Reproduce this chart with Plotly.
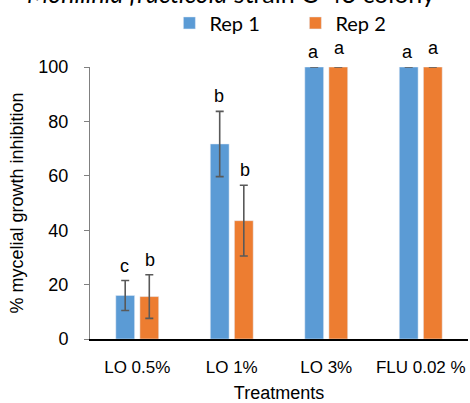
import plotly.graph_objects as go

categories = ["LO 0.5%", "LO 1%", "LO 3%", "FLU 0.02 %"]
rep1 = [16.0, 71.7, 100, 100]
rep1_err = [5.5, 12.0, 0, 0]
rep2 = [15.6, 43.5, 100, 100]
rep2_err = [8.0, 13.0, 0, 0]
rep1_letters = ["c", "b", "a", "a"]
rep2_letters = ["b", "b", "a", "a"]
y_ticks = [0, 20, 40, 60, 80, 100]

blue = "#5B9BD5"
orange = "#ED7D31"
errc = "#595959"
font_ax = "Liberation Sans, Arial, sans-serif"
font_leg = "Lato, Open Sans, sans-serif"

fig = go.Figure()
fig.add_trace(go.Bar(
    x=categories, y=rep1, name="Rep 1", marker_color=blue,
    error_y=dict(type="data", array=rep1_err, color=errc, thickness=1.6, width=4),
))
fig.add_trace(go.Bar(
    x=categories, y=rep2, name="Rep 2", marker_color=orange,
    error_y=dict(type="data", array=rep2_err, color=errc, thickness=1.6, width=4),
))

# significance letters
for i, c in enumerate(categories):
    fig.add_annotation(x=c, y=rep1[i] + rep1_err[i], text=rep1_letters[i],
                       xref="x", yref="y", showarrow=False, xshift=-13,
                       yanchor="bottom", yshift=3,
                       font=dict(family=font_ax, size=18, color="black"))
    fig.add_annotation(x=c, y=rep2[i] + rep2_err[i], text=rep2_letters[i],
                       xref="x", yref="y", showarrow=False, xshift=13,
                       yanchor="bottom", yshift=7 if rep2_err[i] == 0 else 3,
                       font=dict(family=font_ax, size=18, color="black"))

# title (partially cut off at top, as in the reference)
fig.add_annotation(x=0.5, y=1, xref="paper", yref="paper", yanchor="bottom",
                   yshift=57, xshift=-48, showarrow=False,
                   text="<i>Monilinia fructicola</i> strain C-43 colony",
                   font=dict(family=font_leg, size=25, color="black"))

fig.update_layout(
    width=470, height=403,
    margin=dict(l=90, r=2, t=67, b=64, autoexpand=False),
    plot_bgcolor="white", paper_bgcolor="white",
    barmode="group", bargap=0.49, bargroupgap=0.22,
    showlegend=True,
    legend=dict(orientation="h", x=0.21, xanchor="left", y=1.162, yanchor="middle",
                font=dict(family=font_leg, size=20, color="black"),
                entrywidth=81, tracegroupgap=0, bgcolor="rgba(0,0,0,0)"),
    xaxis=dict(
        automargin=False,
        showline=True, linecolor="black", linewidth=1.5,
        ticks="", tickfont=dict(family=font_ax, size=17, color="black"),
        ticklabelstandoff=12,
        title=dict(text="Treatments", font=dict(family=font_ax, size=18, color="black"), standoff=17),
    ),
    yaxis=dict(
        automargin=False,
        range=[0, 100], tickvals=y_ticks, showgrid=False, zeroline=False,
        showline=True, linecolor="#808080", linewidth=1,
        ticks="outside", ticklen=5, tickcolor="#808080",
        tickfont=dict(family=font_ax, size=18, color="black"),
        ticklabelstandoff=12,
        title=dict(text="% mycelial growth inhibition", font=dict(family=font_ax, size=18, color="black"), standoff=10),
    ),
)
for tr in fig.data:
    tr.update(cliponaxis=False)

fig.write_html("out.html", config={"displayModeBar": False},
               post_script="document.body.style.margin='0';")
